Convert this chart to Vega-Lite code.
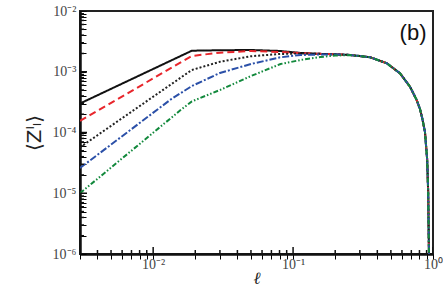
{
  "$schema": "https://vega.github.io/schema/vega-lite/v6.json",
  "width": 353,
  "height": 243,
  "autosize": "none",
  "padding": {"left": 80, "top": 11, "right": 10, "bottom": 36},
  "background": "white",
  "config": {
    "view": {"stroke": "#222", "strokeWidth": 2}
  },
  "layer": [
    {
      "data": {"values": [
        {"s": "s1", "x": 0.003, "y": 3.0e-4},
        {"s": "s1", "x": 0.0189, "y": 2.22e-3},
        {"s": "s1", "x": 0.03, "y": 2.26e-3},
        {"s": "s1", "x": 0.05, "y": 2.28e-3},
        {"s": "s1", "x": 0.08, "y": 2.2e-3},
        {"s": "s1", "x": 0.113, "y": 2.04e-3},
        {"s": "s1", "x": 0.157, "y": 1.97e-3},
        {"s": "s1", "x": 0.2, "y": 1.94e-3},
        {"s": "s1", "x": 0.256, "y": 1.89e-3},
        {"s": "s1", "x": 0.356, "y": 1.73e-3},
        {"s": "s1", "x": 0.467, "y": 1.38e-3},
        {"s": "s1", "x": 0.581, "y": 9.43e-4},
        {"s": "s1", "x": 0.685, "y": 5.67e-4},
        {"s": "s1", "x": 0.764, "y": 3.43e-4},
        {"s": "s1", "x": 0.807, "y": 2.44e-4},
        {"s": "s1", "x": 0.84, "y": 1.67e-4},
        {"s": "s1", "x": 0.876, "y": 1.02e-4},
        {"s": "s1", "x": 0.909, "y": 3.52e-5},
        {"s": "s1", "x": 0.924, "y": 1.01e-5},
        {"s": "s1", "x": 0.935, "y": 1.16e-6},
        {"s": "s1", "x": 0.943, "y": 1.0e-7},
        {"s": "s2", "x": 0.003, "y": 1.55e-4},
        {"s": "s2", "x": 0.0189, "y": 1.82e-3},
        {"s": "s2", "x": 0.03, "y": 2.06e-3},
        {"s": "s2", "x": 0.05, "y": 2.2e-3},
        {"s": "s2", "x": 0.08, "y": 2.12e-3},
        {"s": "s2", "x": 0.113, "y": 2.03e-3},
        {"s": "s2", "x": 0.157, "y": 1.97e-3},
        {"s": "s2", "x": 0.2, "y": 1.94e-3},
        {"s": "s2", "x": 0.256, "y": 1.89e-3},
        {"s": "s2", "x": 0.356, "y": 1.73e-3},
        {"s": "s2", "x": 0.467, "y": 1.38e-3},
        {"s": "s2", "x": 0.581, "y": 9.43e-4},
        {"s": "s2", "x": 0.685, "y": 5.67e-4},
        {"s": "s2", "x": 0.764, "y": 3.43e-4},
        {"s": "s2", "x": 0.807, "y": 2.44e-4},
        {"s": "s2", "x": 0.84, "y": 1.67e-4},
        {"s": "s2", "x": 0.876, "y": 1.02e-4},
        {"s": "s2", "x": 0.909, "y": 3.52e-5},
        {"s": "s2", "x": 0.924, "y": 1.01e-5},
        {"s": "s2", "x": 0.935, "y": 1.16e-6},
        {"s": "s2", "x": 0.943, "y": 1.0e-7},
        {"s": "s3", "x": 0.003, "y": 5.7e-5},
        {"s": "s3", "x": 0.0189, "y": 1.07e-3},
        {"s": "s3", "x": 0.03, "y": 1.46e-3},
        {"s": "s3", "x": 0.05, "y": 1.8e-3},
        {"s": "s3", "x": 0.08, "y": 1.96e-3},
        {"s": "s3", "x": 0.113, "y": 2.0e-3},
        {"s": "s3", "x": 0.157, "y": 1.97e-3},
        {"s": "s3", "x": 0.2, "y": 1.94e-3},
        {"s": "s3", "x": 0.256, "y": 1.89e-3},
        {"s": "s3", "x": 0.356, "y": 1.73e-3},
        {"s": "s3", "x": 0.467, "y": 1.38e-3},
        {"s": "s3", "x": 0.581, "y": 9.43e-4},
        {"s": "s3", "x": 0.685, "y": 5.67e-4},
        {"s": "s3", "x": 0.764, "y": 3.43e-4},
        {"s": "s3", "x": 0.807, "y": 2.44e-4},
        {"s": "s3", "x": 0.84, "y": 1.67e-4},
        {"s": "s3", "x": 0.876, "y": 1.02e-4},
        {"s": "s3", "x": 0.909, "y": 3.52e-5},
        {"s": "s3", "x": 0.924, "y": 1.01e-5},
        {"s": "s3", "x": 0.935, "y": 1.16e-6},
        {"s": "s3", "x": 0.943, "y": 1.0e-7},
        {"s": "s4", "x": 0.003, "y": 2.6e-5},
        {"s": "s4", "x": 0.0134, "y": 3.52e-4},
        {"s": "s4", "x": 0.0189, "y": 5.82e-4},
        {"s": "s4", "x": 0.03, "y": 9.55e-4},
        {"s": "s4", "x": 0.05, "y": 1.34e-3},
        {"s": "s4", "x": 0.08, "y": 1.72e-3},
        {"s": "s4", "x": 0.113, "y": 1.89e-3},
        {"s": "s4", "x": 0.157, "y": 1.92e-3},
        {"s": "s4", "x": 0.2, "y": 1.93e-3},
        {"s": "s4", "x": 0.256, "y": 1.89e-3},
        {"s": "s4", "x": 0.356, "y": 1.73e-3},
        {"s": "s4", "x": 0.467, "y": 1.38e-3},
        {"s": "s4", "x": 0.581, "y": 9.43e-4},
        {"s": "s4", "x": 0.685, "y": 5.67e-4},
        {"s": "s4", "x": 0.764, "y": 3.43e-4},
        {"s": "s4", "x": 0.807, "y": 2.44e-4},
        {"s": "s4", "x": 0.84, "y": 1.67e-4},
        {"s": "s4", "x": 0.876, "y": 1.02e-4},
        {"s": "s4", "x": 0.909, "y": 3.52e-5},
        {"s": "s4", "x": 0.924, "y": 1.01e-5},
        {"s": "s4", "x": 0.935, "y": 1.16e-6},
        {"s": "s4", "x": 0.943, "y": 1.0e-7},
        {"s": "s5", "x": 0.003, "y": 1.0e-5},
        {"s": "s5", "x": 0.0157, "y": 2.34e-4},
        {"s": "s5", "x": 0.0189, "y": 3.25e-4},
        {"s": "s5", "x": 0.03, "y": 5.0e-4},
        {"s": "s5", "x": 0.05, "y": 8.5e-4},
        {"s": "s5", "x": 0.0813, "y": 1.34e-3},
        {"s": "s5", "x": 0.113, "y": 1.56e-3},
        {"s": "s5", "x": 0.157, "y": 1.75e-3},
        {"s": "s5", "x": 0.2, "y": 1.85e-3},
        {"s": "s5", "x": 0.256, "y": 1.88e-3},
        {"s": "s5", "x": 0.356, "y": 1.73e-3},
        {"s": "s5", "x": 0.467, "y": 1.38e-3},
        {"s": "s5", "x": 0.581, "y": 9.43e-4},
        {"s": "s5", "x": 0.685, "y": 5.67e-4},
        {"s": "s5", "x": 0.764, "y": 3.43e-4},
        {"s": "s5", "x": 0.807, "y": 2.44e-4},
        {"s": "s5", "x": 0.84, "y": 1.67e-4},
        {"s": "s5", "x": 0.876, "y": 1.02e-4},
        {"s": "s5", "x": 0.909, "y": 3.52e-5},
        {"s": "s5", "x": 0.924, "y": 1.01e-5},
        {"s": "s5", "x": 0.935, "y": 1.16e-6},
        {"s": "s5", "x": 0.943, "y": 1.0e-7}
      ]},
      "mark": {"type": "line", "clip": true, "strokeWidth": 2},
      "encoding": {
        "x": {
          "field": "x", "type": "quantitative",
          "scale": {"type": "log", "domain": [0.003, 1], "nice": false},
          "axis": {
            "values": [0.003,0.004,0.005,0.006,0.007,0.008,0.009,0.01,0.02,0.03,0.04,0.05,0.06,0.07,0.08,0.09,0.1,0.2,0.3,0.4,0.5,0.6,0.7,0.8,0.9,1],
            "labelExpr": "datum.value == 0.01 ? '10⁻²' : datum.value == 0.1 ? '10⁻¹' : datum.value == 1 ? '10⁰' : ''",
            "ticks": true,
            "tickSize": 5,
            "tickColor": "black",
            "domainColor": "#111", "domainWidth": 2.5,
            "grid": false,
            "labelFont": "Liberation Serif", "labelFontSize": 14, "labelColor": "#444",
            "labelPadding": -2, "labelOverlap": false, "labelFlush": false,
            "title": "ℓ", "titleFont": "DejaVu Serif", "titleFontSize": 17, "titleFontWeight": "normal", "titleFontStyle": "italic", "titleColor": "#222", "titlePadding": -1
          }
        },
        "y": {
          "field": "y", "type": "quantitative",
          "scale": {"type": "log", "domain": [1e-6, 1e-2], "nice": false},
          "axis": {
            "values": [1e-6,2e-6,3e-6,4e-6,5e-6,6e-6,7e-6,8e-6,9e-6,1e-5,2e-5,3e-5,4e-5,5e-5,6e-5,7e-5,8e-5,9e-5,1e-4,2e-4,3e-4,4e-4,5e-4,6e-4,7e-4,8e-4,9e-4,1e-3,2e-3,3e-3,4e-3,5e-3,6e-3,7e-3,8e-3,9e-3,1e-2],
            "labelExpr": "datum.value == 1e-6 ? '10⁻⁶' : datum.value == 1e-5 ? '10⁻⁵' : datum.value == 1e-4 ? '10⁻⁴' : datum.value == 1e-3 ? '10⁻³' : datum.value == 1e-2 ? '10⁻²' : ''",
            "ticks": true,
            "tickSize": -6,
            "tickColor": "black",
            "domainColor": "#111", "domainWidth": 2.5,
            "grid": false,
            "labelFont": "Liberation Serif", "labelFontSize": 14, "labelColor": "#444",
            "labelPadding": 10, "labelOverlap": false, "labelFlush": false,
            "title": "⟨Zˡₗ⟩", "titleFont": "DejaVu Sans", "titleFontSize": 20, "titleFontWeight": "normal", "titleColor": "#222", "titlePadding": 8
          }
        },
        "color": {
          "field": "s", "type": "nominal",
          "scale": {"domain": ["s1","s2","s3","s4","s5"], "range": ["#111111","#e8262c","#222222","#2b50a8","#12893c"]},
          "legend": null
        },
        "strokeDash": {
          "field": "s", "type": "nominal",
          "scale": {"domain": ["s1","s2","s3","s4","s5"], "range": [[1,0],[7,4],[2,2],[7,2,2,2],[5,2,1.5,2,1.5,2]]},
          "legend": null
        }
      }
    },
    {
      "data": {"values": [
        {"v": 0.003}, {"v": 0.004}, {"v": 0.005}, {"v": 0.006}, {"v": 0.007}, {"v": 0.008}, {"v": 0.009},
        {"v": 0.01}, {"v": 0.02}, {"v": 0.03}, {"v": 0.04}, {"v": 0.05}, {"v": 0.06}, {"v": 0.07}, {"v": 0.08}, {"v": 0.09},
        {"v": 0.1}, {"v": 0.2}, {"v": 0.3}, {"v": 0.4}, {"v": 0.5}, {"v": 0.6}, {"v": 0.7}, {"v": 0.8}, {"v": 0.9}, {"v": 1}
      ]},
      "mark": {"type": "tick", "orient": "vertical", "clip": true, "thickness": 1.5, "color": "#111", "opacity": 1},
      "encoding": {
        "x": {"field": "v", "type": "quantitative", "scale": {"type": "log", "domain": [0.003, 1], "nice": false}},
        "y": {"datum": 1e-6, "type": "quantitative", "scale": {"type": "log", "domain": [1e-6, 1e-2], "nice": false}},
        "size": {"condition": {"test": "datum.v == 0.01 || datum.v == 0.1 || datum.v == 1", "value": 14}, "value": 8}
      }
    },
    {
      "data": {"values": [
        {"v": 1e-6}, {"v": 2e-6}, {"v": 3e-6}, {"v": 4e-6}, {"v": 5e-6}, {"v": 6e-6}, {"v": 7e-6}, {"v": 8e-6}, {"v": 9e-6},
        {"v": 1e-5}, {"v": 2e-5}, {"v": 3e-5}, {"v": 4e-5}, {"v": 5e-5}, {"v": 6e-5}, {"v": 7e-5}, {"v": 8e-5}, {"v": 9e-5},
        {"v": 1e-4}, {"v": 2e-4}, {"v": 3e-4}, {"v": 4e-4}, {"v": 5e-4}, {"v": 6e-4}, {"v": 7e-4}, {"v": 8e-4}, {"v": 9e-4},
        {"v": 1e-3}, {"v": 2e-3}, {"v": 3e-3}, {"v": 4e-3}, {"v": 5e-3}, {"v": 6e-3}, {"v": 7e-3}, {"v": 8e-3}, {"v": 9e-3},
        {"v": 1e-2}
      ]},
      "mark": {"type": "tick", "orient": "horizontal", "clip": true, "thickness": 1.5, "color": "#111", "opacity": 1},
      "encoding": {
        "y": {"field": "v", "type": "quantitative", "scale": {"type": "log", "domain": [1e-6, 1e-2], "nice": false}},
        "x": {"datum": 0.003, "type": "quantitative", "scale": {"type": "log", "domain": [0.003, 1], "nice": false}},
        "size": {"condition": {"test": "datum.v == 1e-6 || datum.v == 1e-5 || datum.v == 1e-4 || datum.v == 1e-3 || datum.v == 1e-2", "value": 14}, "value": 8}
      }
    },
    {
      "data": {"values": [{"x": 0.72, "y": 0.00435, "t": "(b)"}]},
      "mark": {"type": "text", "font": "Liberation Sans", "fontSize": 22, "color": "#111", "align": "center", "baseline": "middle"},
      "encoding": {
        "x": {"field": "x", "type": "quantitative"},
        "y": {"field": "y", "type": "quantitative"},
        "text": {"field": "t"}
      }
    }
  ]
}
